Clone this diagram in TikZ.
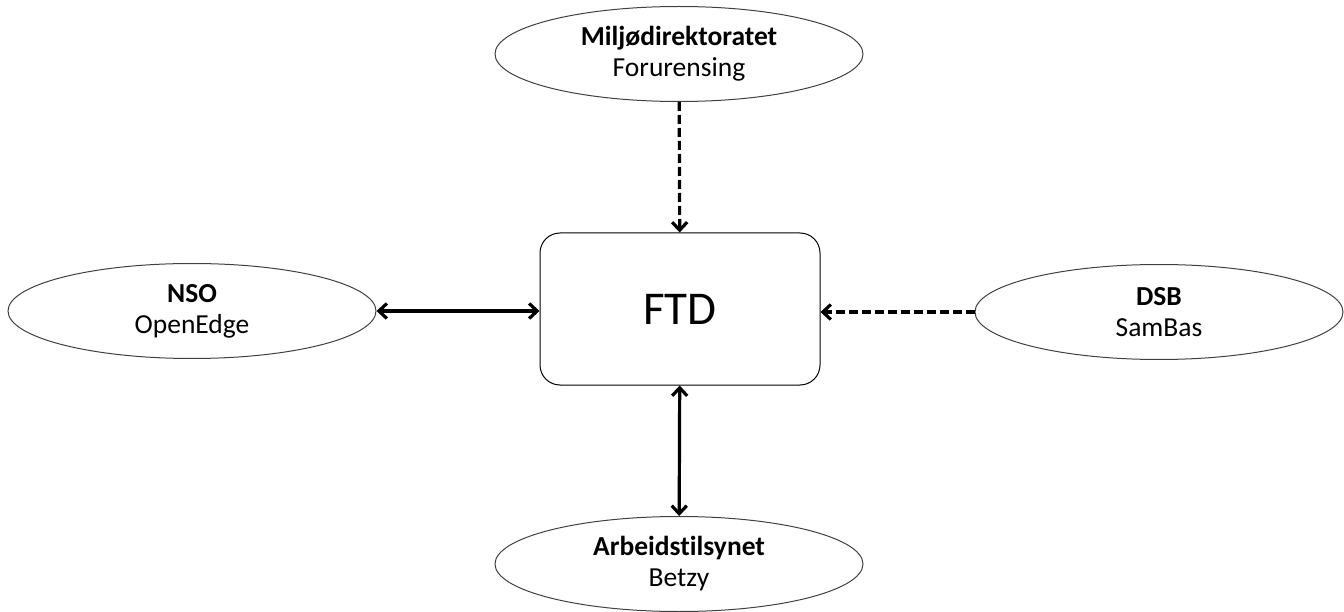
\documentclass[tikz,border=0pt]{standalone}
\usepackage{fontspec}
\setmainfont[Ligatures=NoCommon]{Carlito}
\usepackage{tikz}
\usetikzlibrary{shapes.geometric,arrows.meta}

\begin{document}
\begin{tikzpicture}[x=1pt, y=-1pt, every node/.style={align=center, font=\fontsize{27.5}{31}\selectfont},
  system/.style={ellipse, draw=black!75, line width=1pt, inner sep=0pt, minimum width=368pt, minimum height=95pt},
  barb/.tip={Straight Barb[length=8pt,width=15pt]},
  link/.style={line width=3.2pt, -barb},
  feed/.style={link, dash pattern=on 9pt off 4pt},
  both/.style={link, barb-barb}]
  \useasboundingbox (0,0) rectangle (1344,612);
  \node[draw, rounded corners=20pt, line width=1pt, minimum width=280pt, minimum height=152pt, font=\fontsize{47}{50}\selectfont] (ftd) at (680,309) {FTD};
  \node[system] (miljo) at (679,54) {\textbf{Miljødirektoratet}\\Forurensing};
  \node[system] (nso) at (192,311) {\textbf{NSO}\\OpenEdge};
  \node[system] (dsb) at (1159,312) {\textbf{DSB}\\SamBas};
  \node[system] (arbeid) at (679,564) {\textbf{Arbeidstilsynet}\\Betzy};
  \draw[feed] (miljo) -- (ftd);
  \draw[both] (nso) -- (ftd.west |- nso.east);
  \draw[feed] (dsb) -- (ftd.east |- dsb.west);
  \draw[both] (ftd) -- (arbeid);
\end{tikzpicture}
\end{document}
